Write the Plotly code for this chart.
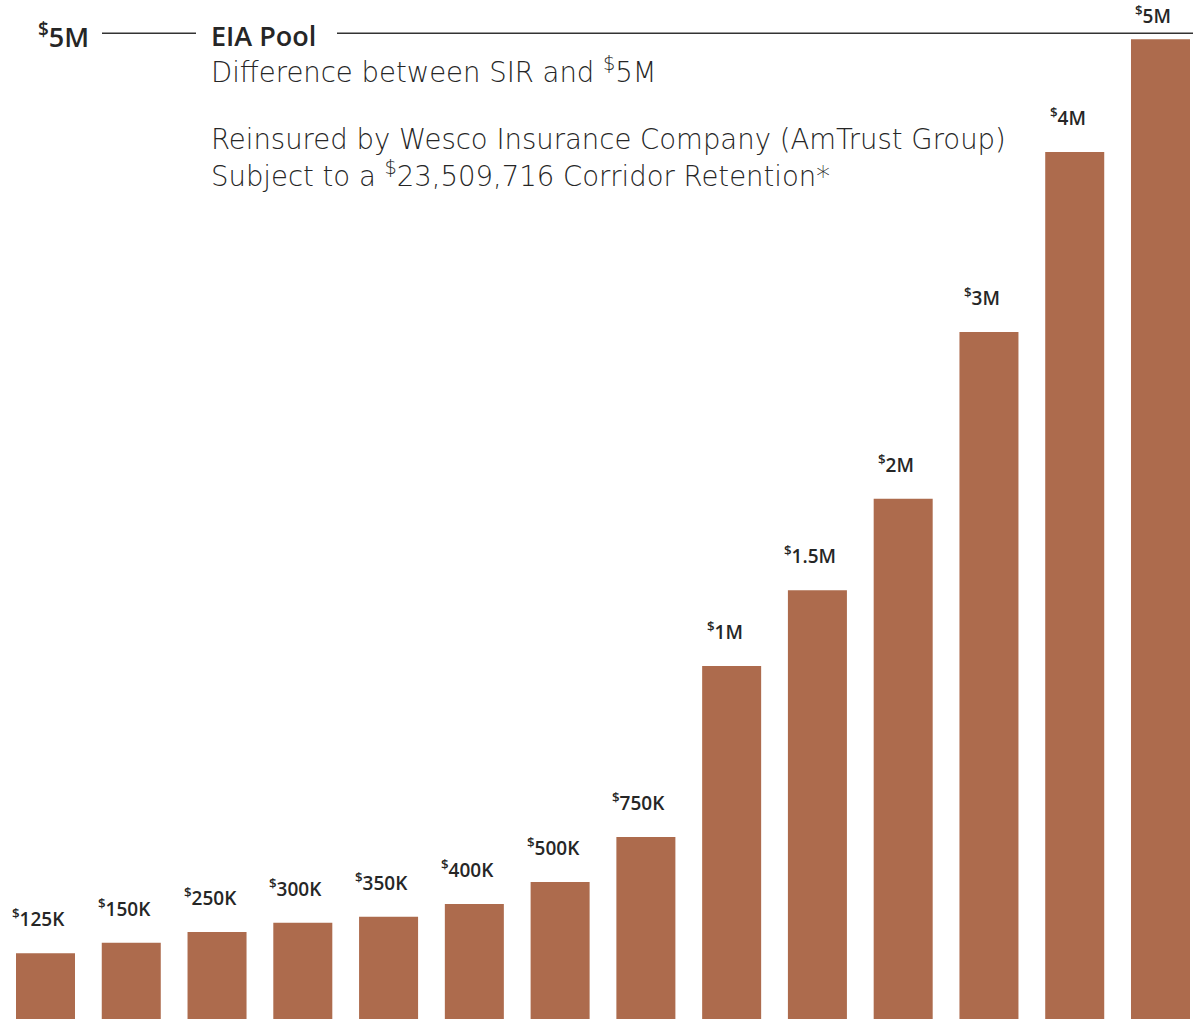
import plotly.graph_objects as go

# ---- data ----
categories = ["$125K", "$150K", "$250K", "$300K", "$350K", "$400K", "$500K",
              "$750K", "$1M", "$1.5M", "$2M", "$3M", "$4M", "$5M"]
label_amounts = ["125K", "150K", "250K", "300K", "350K", "400K", "500K",
                 "750K", "1M", "1.5M", "2M", "3M", "4M", "5M"]
# displayed bar heights (chart is not drawn to linear scale)
bar_heights = [65.7, 76.3, 87, 96.3, 102.3, 115, 137, 182,
               353, 428.7, 520.3, 687, 867, 979.7]

header_left = "5M"
header_title = "EIA Pool"
header_lines = [
    ("Difference between SIR and <sup>$</sup>5M", 70),
    ("Reinsured by Wesco Insurance Company (AmTrust Group)", 139),
    ("Subject to a <sup>$</sup>23,509,716 Corridor Retention*", 174),
]

W, H = 1193, 1019
BAR_COLOR = "#AD6B4D"
TEXT = "#262626"

fig = go.Figure()
fig.add_trace(go.Bar(
    x=categories, y=bar_heights,
    marker=dict(color=BAR_COLOR, line=dict(width=0)),
    hoverinfo="skip",
))

annotations = []
for cat, amt, h in zip(categories, label_amounts, bar_heights):
    # the tallest bar's label sits closer to the bar so it stays on the page
    ys = 19 if h < 950 else 8
    annotations.append(dict(
        x=cat, y=h, xref="x", yref="y",
        text="<sup>$</sup>" + amt, showarrow=False,
        xanchor="center", yanchor="bottom", xshift=-7, yshift=ys,
        font=dict(family="Open Sans", size=19, color=TEXT, weight=600),
    ))

def py(pix):
    return 1 - pix / H

def px(pix):
    return pix / W

# header: $5M and EIA Pool
annotations.append(dict(
    x=px(36), y=py(36), xref="paper", yref="paper",
    text="<sup>$</sup>" + header_left, showarrow=False,
    xanchor="left", yanchor="middle",
    font=dict(family="Open Sans", size=27, color=TEXT, weight=600),
))
annotations.append(dict(
    x=px(209), y=py(36), xref="paper", yref="paper",
    text=header_title, showarrow=False,
    xanchor="left", yanchor="middle",
    font=dict(family="Open Sans", size=27, color=TEXT, weight=600),
))
for txt, ypix in header_lines:
    annotations.append(dict(
        x=px(209), y=py(ypix), xref="paper", yref="paper",
        text=txt, showarrow=False,
        xanchor="left", yanchor="middle",
        font=dict(family="DejaVu Sans", size=27.5, color="#262626", weight=300),
    ))

shapes = [
    dict(type="line", xref="paper", yref="paper",
         x0=px(102), x1=px(196), y0=py(33.3), y1=py(33.3),
         line=dict(color="#333333", width=1.5)),
    dict(type="line", xref="paper", yref="paper",
         x0=px(337), x1=1, y0=py(33.3), y1=py(33.3),
         line=dict(color="#333333", width=1.5)),
]

fig.update_layout(
    width=W, height=H,
    margin=dict(l=0, r=0, t=0, b=0),
    paper_bgcolor="white", plot_bgcolor="white",
    bargap=0.312,
    showlegend=False,
    xaxis=dict(range=[-0.5305, 13.379], showticklabels=False, showgrid=False,
               zeroline=False, showline=False, ticks=""),
    yaxis=dict(range=[0, H], showticklabels=False, showgrid=False,
               zeroline=False, showline=False, ticks=""),
    annotations=annotations,
    shapes=shapes,
)

fig.write_html("out.html", config={"displayModeBar": False},
               post_script="document.body.style.margin='0';document.body.style.overflow='hidden';")
